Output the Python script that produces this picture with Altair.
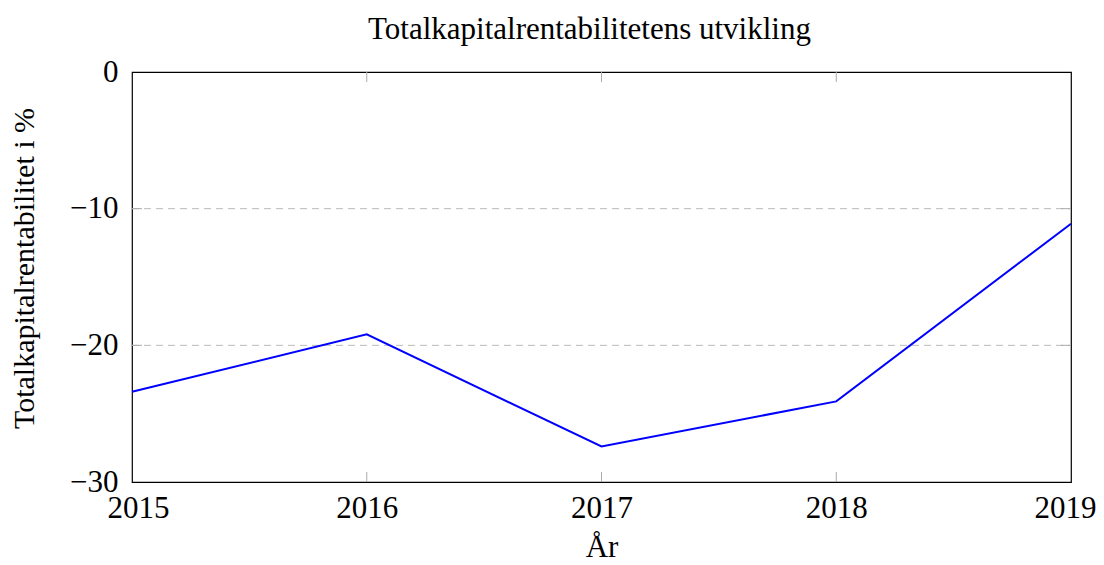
import altair as alt
import pandas as pd

years = [2015, 2016, 2017, 2018, 2019]
values = [-23.4, -19.2, -27.4, -24.1, -11.1]
x_ticks = [2016, 2017, 2018]
y_ticks = [-10, -20]

W, H = 939, 410
FONT = "Liberation Serif"

df = pd.DataFrame({"year": years, "value": values})
xt = pd.DataFrame({"year": x_ticks})
yt = pd.DataFrame({"value": y_ticks})

xscale = alt.Scale(domain=[2015, 2019], nice=False, zero=False)
yscale = alt.Scale(domain=[-30, 0], nice=False)

grid = alt.Chart(yt).mark_rule(color="#bbbbbb", strokeWidth=1, strokeDash=[7, 5]).encode(
    y=alt.Y("value:Q", scale=yscale), x=alt.value(0), x2=alt.value(W))

line = alt.Chart(df).mark_line(color="#0000ff", strokeWidth=2).encode(
    x=alt.X("year:Q", scale=xscale,
            axis=alt.Axis(title="År", values=years, format="d", grid=False,
                          ticks=False, domain=False, labelFlush=True,
                          labelFlushOffset=25,
                          labelOverlap=False, labelPadding=11, titlePadding=9)),
    y=alt.Y("value:Q", scale=yscale,
            axis=alt.Axis(title="Totalkapitalrentabilitet i %", values=[0, -10, -20, -30],
                          grid=False, ticks=False, domain=False, labelPadding=14,
                          titlePadding=30, titleFontSize=30, titleY=196)),
)

tick_color = "#aaaaaa"
xt_bottom = alt.Chart(xt).mark_rule(color=tick_color, strokeWidth=1).encode(
    x=alt.X("year:Q", scale=xscale), y=alt.value(H), y2=alt.value(H - 10))
xt_top = alt.Chart(xt).mark_rule(color=tick_color, strokeWidth=1).encode(
    x=alt.X("year:Q", scale=xscale), y=alt.value(0), y2=alt.value(10))
yt_left = alt.Chart(yt).mark_rule(color=tick_color, strokeWidth=1).encode(
    y=alt.Y("value:Q", scale=yscale), x=alt.value(0), x2=alt.value(10))
yt_right = alt.Chart(yt).mark_rule(color=tick_color, strokeWidth=1).encode(
    y=alt.Y("value:Q", scale=yscale), x=alt.value(W - 10), x2=alt.value(W))

chart = alt.layer(grid, xt_bottom, xt_top, yt_left, yt_right, line).properties(
    width=W, height=H,
    title=alt.Title("Totalkapitalrentabilitetens utvikling", font=FONT, fontSize=31,
                    fontWeight="normal", color="black", offset=10, dx=-12),
    autosize="none",
    padding={"left": 124, "top": 64, "right": 25, "bottom": 75},
).configure_view(stroke="black", strokeWidth=1.2).configure_axis(
    labelFont=FONT, titleFont=FONT, labelFontSize=31, titleFontSize=31,
    labelColor="black", titleColor="black", titleFontWeight="normal",
)

chart.save("out.html", embed_options={"renderer": "svg", "actions": False})
